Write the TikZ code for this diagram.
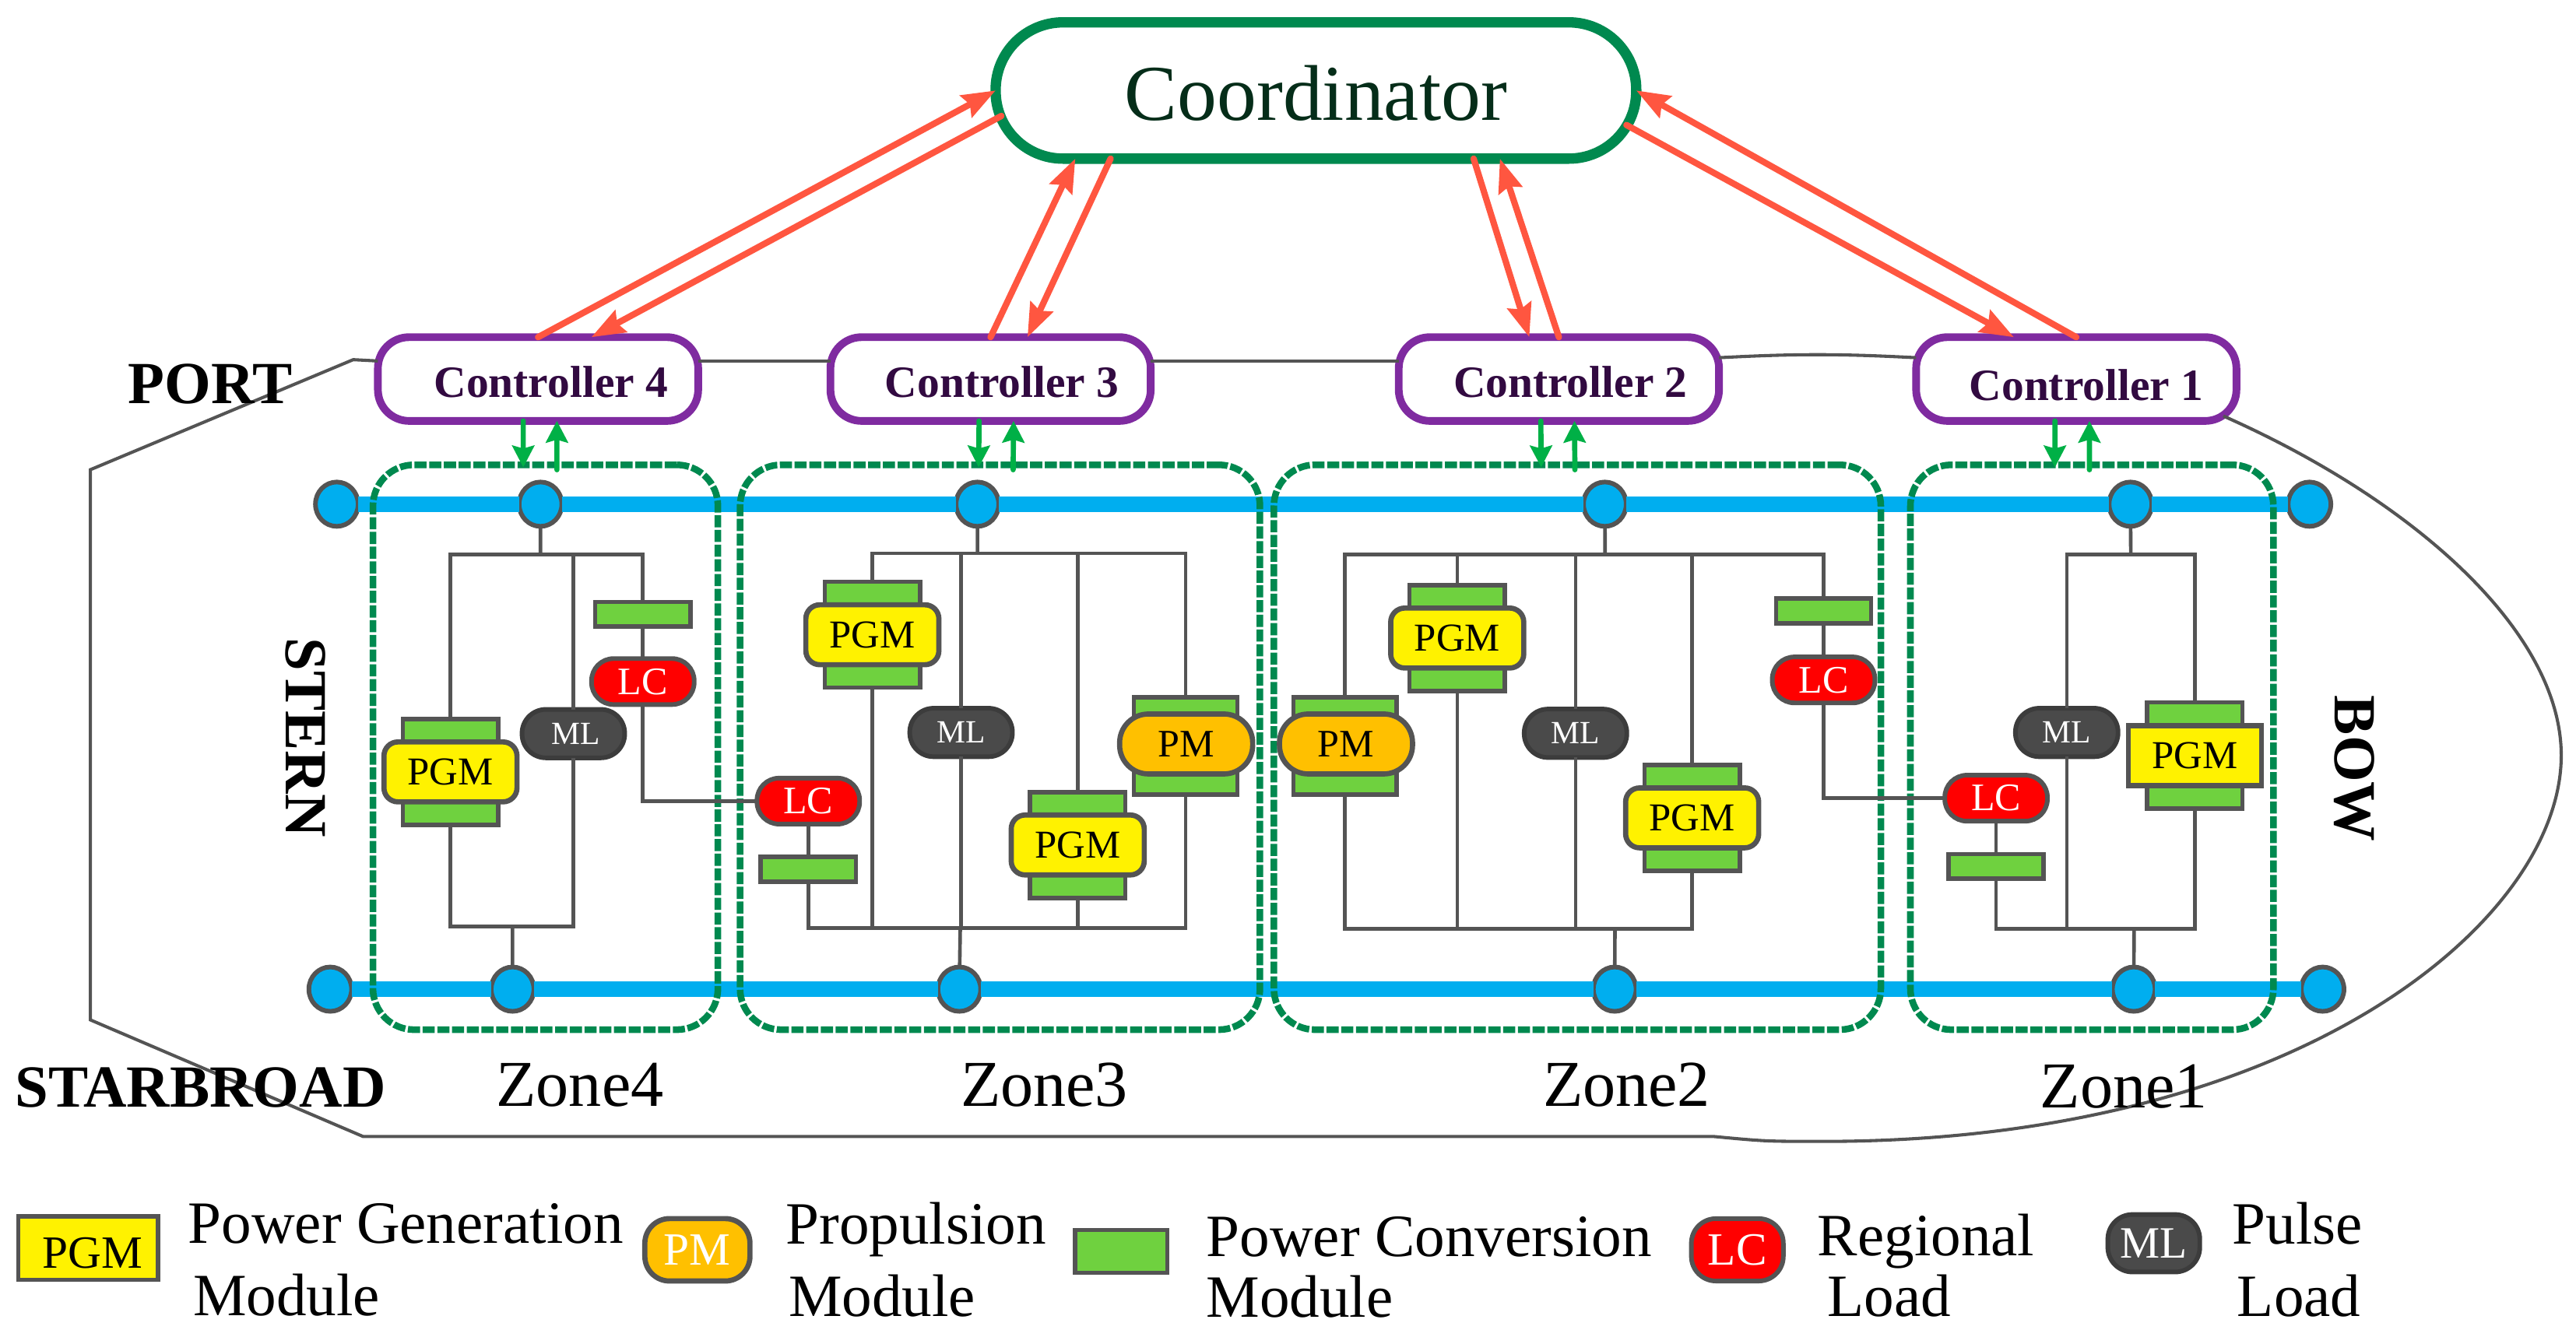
\documentclass[tikz,border=0pt]{standalone}
\usepackage{fontspec}
\setmainfont{Liberation Serif}
\usepackage{xcolor}
\usetikzlibrary{arrows,arrows.meta,shapes,positioning}
\definecolor{spgray}{RGB}{84,84,84}
\definecolor{spdark}{RGB}{60,60,60}
\definecolor{spmlfill}{RGB}{74,74,74}
\definecolor{spgreen}{RGB}{0,137,79}
\definecolor{sppurple}{RGB}{127,43,160}
\definecolor{spink}{RGB}{50,10,65}
\definecolor{spforest}{RGB}{5,45,25}
\definecolor{spred}{RGB}{255,86,64}
\definecolor{spsignal}{RGB}{0,176,70}
\definecolor{spbus}{RGB}{0,174,239}
\definecolor{spterm}{RGB}{0,174,239}
\definecolor{sppcm}{RGB}{111,209,63}
\definecolor{sporange}{RGB}{255,192,0}
\tikzstyle{cmdarrow} = [line width=2.2pt,line cap=round,->,>={Stealth[length=11.6pt,width=8.5pt,inset=1.5pt]},color=spred]
\tikzstyle{sigarrow} = [line width=1.8pt,line cap=round,->,>={Stealth[length=7.5pt,width=7.6pt,inset=1pt]},color=spsignal]
\tikzstyle{wire} = [line width=1.25pt,color=spgray]
\tikzstyle{hull} = [line width=1.1pt,color=spgray]
\tikzstyle{busline} = [line width=5.4pt,color=spbus]
\tikzstyle{coordbox} = [rectangle, rounded corners=0.82cm, minimum width=7.8cm, minimum height=1.66cm, draw=spgreen, fill=white, line width=3.6pt, outer sep=0pt, inner sep=0pt, text=spforest, font=\fontsize{27.4}{30}\selectfont]
\tikzstyle{ctrlbox} = [rectangle, rounded corners=0.38cm, minimum width=3.9cm, minimum height=1.02cm, draw=sppurple, fill=white, line width=2.67pt, outer sep=0pt, inner sep=0pt, text=spink, font=\fontsize{15.5}{17}\selectfont\bfseries]
\tikzstyle{zonebox} = [rectangle, rounded corners=0.5cm, minimum height=6.88cm, draw=spgreen, line width=2.3pt, dash pattern=on 4.2pt off 0.9pt, outer sep=0pt, inner sep=0pt]
\tikzstyle{terminal} = [ellipse, minimum width=0.52cm, minimum height=0.54cm, draw=spgray, fill=spterm, line width=1.6pt, outer sep=0pt, inner sep=0pt]
\tikzstyle{pcmbox} = [rectangle, minimum width=1.16cm, minimum height=1.29cm, draw=spgray, fill=sppcm, line width=1.5pt, outer sep=0pt, inner sep=0pt]
\tikzstyle{pcmwide} = [pcmbox, minimum width=1.26cm, minimum height=1.18cm]
\tikzstyle{pcmsmall} = [pcmbox, minimum width=1.16cm, minimum height=0.3cm]
\tikzstyle{pgmbox} = [rectangle, rounded corners=0.17cm, minimum width=1.62cm, minimum height=0.73cm, draw=spgray, fill=yellow, line width=1.8pt, outer sep=0pt, inner sep=0pt, font=\fontsize{13.7}{15}\selectfont]
\tikzstyle{pmbox} = [pgmbox, rounded corners=0.35cm, fill=sporange, font=\fontsize{13.5}{15}\selectfont]
\tikzstyle{lcbox} = [rectangle, rounded corners=0.27cm, minimum width=1.25cm, minimum height=0.56cm, draw=spgray, fill=red, line width=1.6pt, outer sep=0pt, inner sep=0pt, text=white, font=\fontsize{13.5}{15}\selectfont]
\tikzstyle{mlbox} = [lcbox, rounded corners=0.29cm, minimum height=0.59cm, draw=spdark, fill=spmlfill, font=\fontsize{11.2}{13}\selectfont]
\tikzstyle{boldlabel} = [inner sep=0pt, font=\fontsize{20.7}{22}\selectfont\bfseries]
\tikzstyle{zonelabel} = [inner sep=0pt, font=\fontsize{22.7}{25}\selectfont]
\tikzstyle{legendtext} = [inner sep=0pt, align=left, font=\fontsize{20.8}{25}\selectfont]

\begin{document}
\begin{tikzpicture}[x=0.02cm, y=-0.02cm]
\useasboundingbox (0,0) rectangle (1568,817.9);

% Coordinator and controllers
\node[coordbox] (coord) at (801,55.1) {\raisebox{-10.4pt}[0pt][0pt]{Coordinator}};
\node[ctrlbox] (ctrlfour) at (327.5,230.8) {\hspace*{9pt}\raisebox{-6.3pt}[0pt][0pt]{Controller 4}};
\node[ctrlbox, right=1.61cm of ctrlfour] (ctrlthree) {\hspace*{8pt}\raisebox{-6.3pt}[0pt][0pt]{Controller 3}};
\node[ctrlbox, right=3.02cm of ctrlthree] (ctrltwo) {\hspace*{8pt}\raisebox{-6.3pt}[0pt][0pt]{Controller 2}};
\node[ctrlbox, right=2.4cm of ctrltwo] (ctrlone) {\hspace*{7pt}\raisebox{-7.3pt}[0pt][0pt]{Controller 1}};

% Ship outline
\draw[hull] ([yshift=0.22cm]ctrlfour.west) -- (215,219) -- (55,286) -- (55,621) -- (221,692) -- (1043,692)
    .. controls (1075,695) .. (1110,695) .. controls (1400,695) and (1559,560) .. (1559,460)
    .. controls (1559,385) and (1470,305) .. ([xshift=-0.16cm,yshift=0.06cm]ctrlone.south east);
\draw[hull] ([yshift=0.22cm]ctrlfour.east) -- ([yshift=0.22cm]ctrlthree.west);
\draw[hull] ([yshift=0.22cm]ctrlthree.east) -- ([yshift=0.22cm]ctrltwo.west);
\draw[hull] ([yshift=0.26cm]ctrltwo.east) to[bend left=3] ([yshift=0.26cm]ctrlone.west);

% Port bus
\node[terminal] (portb) at (205,307) {};
\node[terminal, right=1.96cm of portb] (portfour) {};
\node[terminal, right=4.8cm of portfour] (portthree) {};
\node[terminal, right=7.12cm of portthree] (porttwo) {};
\node[terminal, right=5.88cm of porttwo] (portone) {};
\node[terminal, right=1.66cm of portone] (porta) {};
\draw[busline] (portb) -- (portfour);
\draw[busline] (portfour) -- (portthree);
\draw[busline] (portthree) -- (porttwo);
\draw[busline] (porttwo) -- (portone);
\draw[busline] (portone) -- (porta);

% Starboard bus
\node[terminal] (starb) at (201,602.3) {};
\node[terminal, right=1.7cm of starb] (starfour) {};
\node[terminal, right=4.92cm of starfour] (starthree) {};
\node[terminal, right=7.46cm of starthree] (startwo) {};
\node[terminal, right=5.8cm of startwo] (starone) {};
\node[terminal, right=1.78cm of starone] (stara) {};
\draw[busline] (starb) -- (starfour);
\draw[busline] (starfour) -- (starthree);
\draw[busline] (starthree) -- (startwo);
\draw[busline] (startwo) -- (starone);
\draw[busline] (starone) -- (stara);

% Zones
\node[zonebox, minimum width=4.2cm] (zonefour) at (332,455) {};
\node[zonebox, minimum width=6.33cm, right=0.27cm of zonefour] (zonethree) {};
\node[zonebox, minimum width=7.39cm, right=0.17cm of zonethree] (zonetwo) {};
\node[zonebox, minimum width=4.42cm, right=0.36cm of zonetwo] (zoneone) {};
\node[zonelabel, below=0.4cm of zonefour, xshift=0.42cm] (labelfour) {Zone4};
\node[zonelabel, below=0.4cm of zonethree, xshift=0.54cm] (labelthree) {Zone3};
\node[zonelabel, below=0.4cm of zonetwo, xshift=0.6cm] (labeltwo) {Zone2};
\node[zonelabel, below=0.42cm of zoneone, xshift=0.39cm] (labelone) {Zone1};

% Zone 4 modules
\coordinate (railfourtop) at (329,337.5);
\coordinate (railfourbot) at (312,564);
\node[pcmbox] (pcmfoura) at (274.2,470) {};
\node[pgmbox] (pgmfoura) at (pcmfoura) {PGM};
\node[mlbox] (mlfour) at (349,446.7) {\hspace*{1.5pt}ML};
\node[lcbox] (lcfour) at (391.3,415) {LC};
\node[pcmsmall, above=0.39cm of lcfour] (pcmfourb) {};
\node[lcbox] (lcfourb) at (492,487.8) {LC};
\node[pcmsmall, below=0.4cm of lcfourb] (pcmfourc) {};

% Zone 3 modules
\coordinate (railthreetop) at (595,337);
\coordinate (railthreebot) at (584.5,565);
\node[pcmbox] (pcmthreea) at (531,386.5) {};
\node[pgmbox] (pgmthreea) at (pcmthreea) {PGM};
\node[mlbox] (mlthree) at (585,446) {ML};
\node[pcmbox] (pcmthreeb) at (656,514.5) {};
\node[pgmbox] (pgmthreeb) at (pcmthreeb) {PGM};
\node[pcmwide] (pcmthreec) at (721.6,454.2) {};
\node[pmbox] (pmthree) at (722,453) {PM};

% Zone 2 modules
\coordinate (railtwotop) at (977,337.5);
\coordinate (railtwobot) at (983,565.5);
\node[pcmwide] (pcmtwoa) at (818.7,454.2) {};
\node[pmbox] (pmtwo) at (819.3,453) {PM};
\node[pcmbox] (pcmtwob) at (887,388.5) {};
\node[pgmbox] (pgmtwob) at (pcmtwob) {PGM};
\node[mlbox] (mltwo) at (959,446.5) {ML};
\node[pcmbox] (pcmtwoc) at (1030,498) {};
\node[pgmbox] (pgmtwoc) at (pcmtwoc) {PGM};
\node[lcbox] (lctwo) at (1110,414) {LC};
\node[pcmsmall, above=0.41cm of lctwo] (pcmtwod) {};
\node[lcbox] (lctwob) at (1215,486) {LC};
\node[pcmsmall, below=0.4cm of lctwob] (pcmtwoe) {};

% Zone 1 modules
\coordinate (railonetop) at (1297,337.5);
\coordinate (railonebot) at (1299,565.5);
\node[mlbox] (mlone) at (1258,446) {ML};
\node[pcmbox] (pcmone) at (1336,460) {};
\node[pgmbox, rounded corners=0pt] (pgmone) at (pcmone) {PGM};

% Zone 4 wires
\draw[wire] (portfour) -- (railfourtop);
\draw[wire] (pcmfoura.north) |- (railfourtop) -| (pcmfourb.north);
\draw[wire] (mlfour.north) -- (mlfour.north |- railfourtop);
\draw[wire] (pcmfourb.south) -- (lcfour.north);
\draw[wire] (lcfour.south) |- (lcfourb.west);
\draw[wire] (lcfourb.south) -- (pcmfourc.north);
\draw[wire] (starfour) -- (railfourbot);
\draw[wire] (pcmfoura.south) |- (railfourbot) -| (mlfour.south);

% Zone 3 wires
\draw[wire] (portthree) -- (railthreetop);
\draw[wire] (pcmthreea.north) |- (railthreetop) -| (pcmthreec.north);
\draw[wire] (mlthree.north) -- (mlthree.north |- railthreetop);
\draw[wire] (pcmthreeb.north) -- (pcmthreeb.north |- railthreetop);
\draw[wire] (starthree) -- (railthreebot);
\draw[wire] (pcmfourc.south) |- (railthreebot) -| (pcmthreec.south);
\draw[wire] (pcmthreea.south) -- (pcmthreea.south |- railthreebot);
\draw[wire] (mlthree.south) -- (mlthree.south |- railthreebot);
\draw[wire] (pcmthreeb.south) -- (pcmthreeb.south |- railthreebot);

% Zone 2 wires
\draw[wire] (porttwo) -- (railtwotop);
\draw[wire] (pcmtwoa.north) |- (railtwotop) -| (pcmtwod.north);
\draw[wire] (pcmtwob.north) -- (pcmtwob.north |- railtwotop);
\draw[wire] (mltwo.north) -- (mltwo.north |- railtwotop);
\draw[wire] (pcmtwoc.north) -- (pcmtwoc.north |- railtwotop);
\draw[wire] (pcmtwod.south) -- (lctwo.north);
\draw[wire] (lctwo.south) |- (lctwob.west);
\draw[wire] (lctwob.south) -- (pcmtwoe.north);
\draw[wire] (startwo) -- (railtwobot);
\draw[wire] (pcmtwoa.south) |- (railtwobot) -| (pcmtwoc.south);
\draw[wire] (pcmtwob.south) -- (pcmtwob.south |- railtwobot);
\draw[wire] (mltwo.south) -- (mltwo.south |- railtwobot);

% Zone 1 wires
\draw[wire] (portone) -- (railonetop);
\draw[wire] (mlone.north) |- (railonetop) -| (pcmone.north);
\draw[wire] (starone) -- (railonebot);
\draw[wire] (pcmtwoe.south) |- (railonebot) -| (pcmone.south);
\draw[wire] (mlone.south) -- (mlone.south |- railonebot);

% Coordinator links
\draw[cmdarrow] (ctrlfour.north) -- (coord.west);
\draw[cmdarrow] ([xshift=0.07cm,yshift=-0.31cm]coord.west) -- ([xshift=0.65cm]ctrlfour.north);
\draw[cmdarrow] (ctrlthree.north) -- ([xshift=-2.93cm]coord.south);
\draw[cmdarrow] ([xshift=-2.5cm]coord.south) -- ([xshift=0.45cm]ctrlthree.north);
\draw[cmdarrow] ([xshift=1.92cm]coord.south) -- ([xshift=-0.36cm]ctrltwo.north);
\draw[cmdarrow] (ctrltwo.north) -- ([xshift=2.24cm]coord.south);
\draw[cmdarrow] ([xshift=-0.12cm,yshift=-0.42cm]coord.east) -- ([xshift=-0.76cm]ctrlone.north);
\draw[cmdarrow] (ctrlone.north) -- (coord.east);

% Controller to zone links
\draw[sigarrow] ([xshift=-0.18cm]ctrlfour.south) -- ([xshift=-0.27cm,yshift=-0.03cm]zonefour.north);
\draw[sigarrow] ([xshift=0.14cm,yshift=-0.06cm]zonefour.north) -- ([xshift=0.23cm]ctrlfour.south);
\draw[sigarrow] ([xshift=-0.14cm]ctrlthree.south) -- ([xshift=-0.26cm,yshift=-0.03cm]zonethree.north);
\draw[sigarrow] ([xshift=0.16cm,yshift=-0.06cm]zonethree.north) -- ([xshift=0.28cm]ctrlthree.south);
\draw[sigarrow] ([xshift=-0.22cm]ctrltwo.south) -- ([xshift=-0.44cm,yshift=-0.03cm]zonetwo.north);
\draw[sigarrow] ([xshift=-0.03cm,yshift=-0.06cm]zonetwo.north) -- ([xshift=0.19cm]ctrltwo.south);
\draw[sigarrow] ([xshift=-0.26cm]ctrlone.south) -- ([xshift=-0.45cm,yshift=-0.03cm]zoneone.north);
\draw[sigarrow] ([xshift=-0.03cm,yshift=-0.06cm]zoneone.north) -- ([xshift=0.16cm]ctrlone.south);

% Side labels
\node[boldlabel] (port) at (128,234) {PORT};
\node[boldlabel] (starboard) at (122,662) {STARBROAD};
\node[boldlabel, rotate=-90] (stern) at (186,449) {STERN};
\node[boldlabel, rotate=-90] (bow) at (1433,468) {BOW};

% Legend
\node[pgmbox, rounded corners=0pt, line width=1.5pt, minimum width=1.7cm, minimum height=0.77cm, font=\fontsize{16}{18}\selectfont] (lgpgm) at (53.7,760) {\hspace*{3pt}\raisebox{-6.8pt}[0pt][0pt]{PGM}};
\node[legendtext, right=0.36cm of lgpgm, yshift=-0.14cm] (lgpgmtext) {Power Generation\\\hspace*{1.7pt}Module};
\node[pmbox, rounded corners=0.3cm, minimum width=1.28cm, minimum height=0.76cm, text=white, font=\fontsize{16}{18}\selectfont] (lgpm) at (424.5,761) {PM};
\node[legendtext, right=0.43cm of lgpm, yshift=-0.12cm] (lgpmtext) {Propulsion\\\hspace*{1pt}Module};
\node[pcmsmall, minimum width=1.12cm, minimum height=0.52cm] (lgpcm) at (682.5,762) {};
\node[legendtext, right=0.47cm of lgpcm, yshift=-0.19cm] (lgpcmtext) {Power Conversion\\[-4pt]Module};
\node[lcbox, rounded corners=0.3cm, minimum width=1.12cm, minimum height=0.76cm, font=\fontsize{16}{18}\selectfont] (lglc) at (1057.5,761) {LC};
\node[legendtext, right=0.41cm of lglc, yshift=-0.19cm] (lglctext) {Regional\\[-4pt]\hspace*{3.4pt}Load};
\node[mlbox, rounded corners=0.3cm, minimum width=1.12cm, minimum height=0.7cm, font=\fontsize{15.5}{17}\selectfont] (lgml) at (1311,757) {ML};
\node[legendtext, right=0.39cm of lgml, yshift=-0.2cm] (lgmltext) {Pulse\\\hspace*{1.7pt}Load};

\end{tikzpicture}
\end{document}
